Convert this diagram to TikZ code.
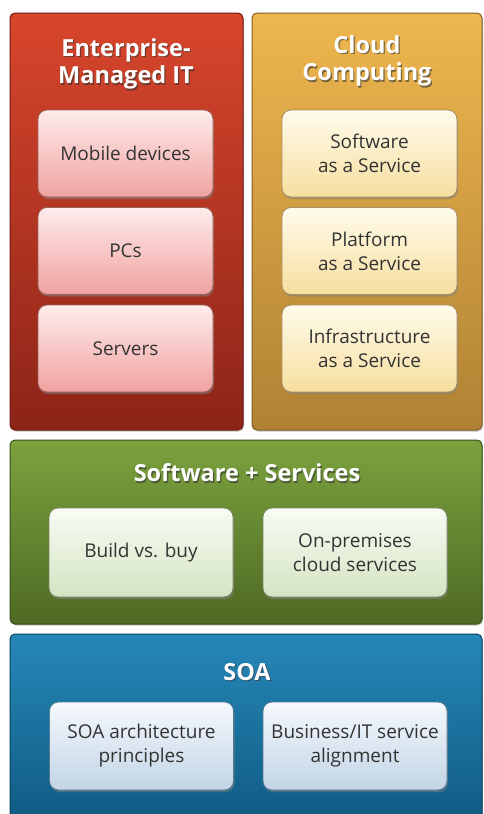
\documentclass[tikz,border=0pt]{standalone}
\usepackage{fontspec}
\setmainfont{Open Sans}
\usetikzlibrary{shadows}
\definecolor{redtop}{RGB}{216,70,44}
\definecolor{redbot}{RGB}{140,36,24}
\definecolor{redline}{RGB}{110,28,18}
\definecolor{ortop}{RGB}{238,182,78}
\definecolor{orbot}{RGB}{176,130,52}
\definecolor{orline}{RGB}{130,92,36}
\definecolor{grtop}{RGB}{124,162,62}
\definecolor{grbot}{RGB}{78,106,36}
\definecolor{grline}{RGB}{58,80,26}
\definecolor{bltop}{RGB}{38,136,184}
\definecolor{blbot}{RGB}{14,88,128}
\definecolor{blline}{RGB}{10,64,96}
\definecolor{pktop}{RGB}{254,236,236}
\definecolor{pkbot}{RGB}{240,162,160}
\definecolor{crtop}{RGB}{255,252,236}
\definecolor{crbot}{RGB}{246,222,158}
\definecolor{lgtop}{RGB}{249,252,245}
\definecolor{lgbot}{RGB}{212,228,194}
\definecolor{lbtop}{RGB}{245,249,253}
\definecolor{lbbot}{RGB}{194,212,230}
\definecolor{txt}{RGB}{51,51,51}
\tikzset{
  panel/.style={rounded corners=5pt, line width=1pt, inner sep=0pt,
    drop shadow={shadow xshift=1pt, shadow yshift=-1.5pt, opacity=0.45}},
  redpanel/.style={panel, draw=redline, top color=redtop, bottom color=redbot},
  orpanel/.style={panel, draw=orline, top color=ortop, bottom color=orbot},
  grpanel/.style={panel, draw=grline, top color=grtop, bottom color=grbot},
  blpanel/.style={panel, draw=blline, top color=bltop, bottom color=blbot},
  item/.style={rounded corners=9pt, line width=0.8pt, align=center, text=txt,
    font=\fontsize{19}{24}\selectfont, inner sep=0pt,
    drop shadow={shadow xshift=1pt, shadow yshift=-2pt, opacity=0.55}},
  reditem/.style={item, draw=redline!70, top color=pktop, bottom color=pkbot, minimum width=175pt, minimum height=87pt},
  oritem/.style={item, draw=orline!70, top color=crtop, bottom color=crbot, minimum width=175pt, minimum height=87pt},
  gritem/.style={item, draw=grline!70, top color=lgtop, bottom color=lgbot, minimum width=184pt, minimum height=89pt},
  blitem/.style={item, draw=blline!70, top color=lbtop, bottom color=lbbot, minimum width=184pt, minimum height=88pt},
  ttlshadow/.style={align=center, text=black!80, opacity=0.6, font=\bfseries\fontsize{23.5}{27.5}\selectfont},
  ttl/.style={align=center, text=white, font=\bfseries\fontsize{23.5}{27.5}\selectfont},
}
\begin{document}
\begin{tikzpicture}[x=1pt, y=-1pt]
\useasboundingbox (0,0) rectangle (484,814);
\fill[white] (0,0) rectangle (484,814);
\clip (0,0) rectangle (484,814);
% panels
\node[redpanel, minimum width=233pt, minimum height=417pt] (red) at (126.5,221.5) {};
\node[orpanel, minimum width=230pt, minimum height=417pt] (orange) at (367,221.5) {};
\node[grpanel, minimum width=472pt, minimum height=184pt] (green) at (246,532) {};
\node[blpanel, minimum width=472pt, minimum height=200pt] (blue) at (246,734) {};
% titles
\node[ttlshadow] (redts) at (127.2,65.2) {Enterprise-\\Managed IT};
\node[ttl] (redt) at (126,64) {Enterprise-\\Managed IT};
\node[ttlshadow] (orts) at (368.2,62.2) {Cloud\\Computing};
\node[ttl] (ort) at (367,61) {Cloud\\Computing};
\node[ttlshadow] (grts) at (248.2,474.2) {Software + Services};
\node[ttl] (grt) at (247,473) {Software + Services};
\node[ttlshadow] (blts) at (248.2,673.2) {SOA};
\node[ttl] (blt) at (247,672) {SOA};
% red items
\node[reditem] (mob) at (125.5,153.5) {Mobile devices};
\node[reditem] (pcs) at (125.5,251) {PCs};
\node[reditem] (srv) at (125.5,348.5) {Servers};
% orange items
\node[oritem] (saas) at (369.5,153.5) {Software\\as a Service};
\node[oritem] (paas) at (369.5,251) {Platform\\as a Service};
\node[oritem] (iaas) at (369.5,348.5) {Infrastructure\\as a Service};
% green items
\node[gritem] (bvb) at (141,552.5) {Build vs. buy};
\node[gritem] (onp) at (355,552.5) {On-premises\\cloud services};
% blue items
\node[blitem] (soaa) at (141.5,746) {SOA architecture\\principles};
\node[blitem] (bita) at (355,746) {Business/IT service\\alignment};
\end{tikzpicture}
\end{document}
